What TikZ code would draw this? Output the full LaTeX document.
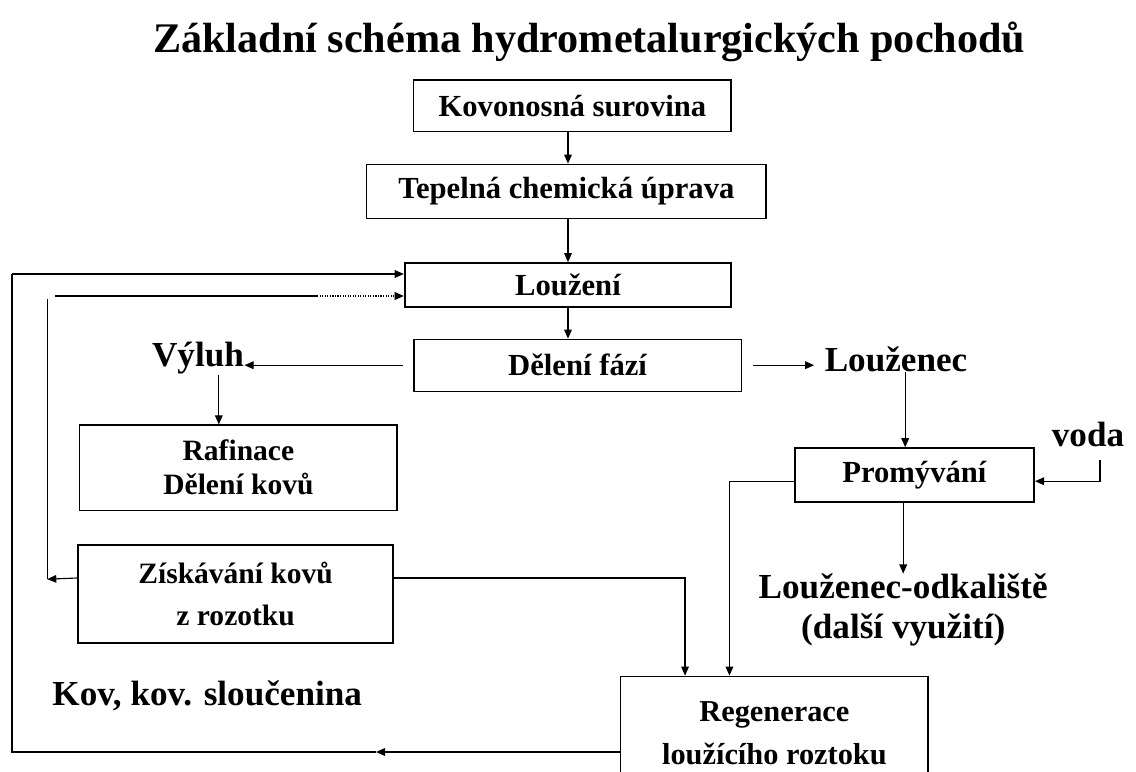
\documentclass[tikz,border=0pt]{standalone}
\usepackage{fontspec}
\setmainfont{Liberation Serif}
\usetikzlibrary{arrows.meta,positioning}

\begin{document}
\begin{tikzpicture}[line width=0.8pt,
    box/.style={draw, rectangle, inner sep=0pt, align=center, font=\fontsize{21.8}{25}\selectfont\bfseries},
    thickbox/.style={box, line width=1.4pt},
    bigtext/.style={inner sep=0pt, align=center, font=\fontsize{25}{28}\selectfont\bfseries},
    arr/.style={-{Triangle[length=6.5pt,width=5.5pt]}}]
        \useasboundingbox (0,0) rectangle (28.4,-19.275);
        \clip (0,0) rectangle (28.4,-19.275);
        % titulek
        \node [font=\fontsize{30}{34}\selectfont\bfseries] (title) at (14.73,-1.05) {Základní schéma hydrometalurgických pochodů};
        % hlavni linka
        \node [box, minimum width=7.93cm, minimum height=1.28cm] (kov) at (14.31,-2.64) {Kovonosná surovina};
        \node [box, minimum width=9.98cm, minimum height=1.35cm] (tep) at (14.16,-4.78) {Tepelná chemická úprava};
        \node [thickbox, minimum width=8.16cm, minimum height=1.10cm] (lou) at (14.2,-7.13) {Loužení};
        \node [box, minimum width=8.18cm, minimum height=1.30cm] (del) at (14.44,-9.13) {Dělení fází};
        \node [bigtext] (vyl) at (4.95,-8.95) {Výluh};
        \node [bigtext] (lzn) at (22.4,-8.98) {Louženec};
        \node [bigtext] (voda) at (27.2,-10.85) {voda};
        \node [box, font=\fontsize{21}{24}\selectfont\bfseries, minimum width=7.93cm, minimum height=2.13cm] (raf) at (5.96,-11.69) {Rafinace\\Dělení kovů};
        \node [thickbox, minimum width=5.98cm, minimum height=1.35cm] (prom) at (22.86,-11.88) {Promývání};
        \node [bigtext] (odk) at (22.58,-15.25) {Louženec-odkaliště\\(další využití)};
        \node [thickbox, font=\fontsize{21}{30}\selectfont\bfseries, minimum width=7.88cm, minimum height=2.45cm] (zisk) at (5.89,-14.85) {Získávání kovů\\z rozotku};
        \node [bigtext] (slouc) at (5.18,-17.4) {Kov, kov. sloučenina};
        \node [box, font=\fontsize{21.6}{31}\selectfont\bfseries, minimum width=7.68cm, minimum height=2.85cm] (reg) at (19.36,-18.33) {Regenerace\\loužícího roztoku};
        % body spojek
        \coordinate (vodatop) at (27.5,-11.5);
        \coordinate (r1) at ([xshift=1.62cm]reg.north west);
        \coordinate (r2) at ([xshift=2.73cm]reg.north west);
        \coordinate (k1) at (1.18,-14.48);
        \coordinate (k2) at (1.18,-7.48);
        \coordinate (k3) at (1.38,-7.4);
        \coordinate (k4) at (7.93,-7.4);
        \coordinate (o1) at ([yshift=-0.47cm]reg.west);
        \coordinate (o2) at (9.4,-18.8);
        \coordinate (o3) at (0.3,-6.85);
        % spojky
        \draw [arr] (kov.south -| lou.north) -- (tep.north -| lou.north);
        \draw [arr] (tep.south -| lou.north) -- (lou);
        \draw [arr] (lou.south) -- (lou.south |- del.north);
        \draw [arr, shorten <=0.27cm] (del.west) -- (vyl.east |- del.west);
        \draw [arr] (vyl.south -| 5.47,0) -- (raf.north -| 5.47,0);
        \draw [arr, shorten <=0.28cm] (del.east) -- ([xshift=-0.25cm]lzn.west |- del.east);
        \draw [arr] (lzn.south -| 22.63,0) -- (prom.north -| 22.63,0);
        \draw [arr] (vodatop) |- ([yshift=-0.15cm]prom.east);
        \draw [arr] (prom.south -| 22.58,0) -- (odk.north -| 22.58,0);
        \draw [arr] ([yshift=-0.15cm]prom.west) -| (r2);
        \draw [arr] ([yshift=0.4cm]zisk.east) -| (r1);
        \draw [arr] ([yshift=0.4cm]zisk.west) -- (k1);
        \draw (k1) -- (k2);
        \draw (k3) -- (k4);
        \draw [arr, densely dotted] (k4) -- (lou.west |- k4);
        \draw [arr] (o1) -- (o2);
        \draw (o2) -| (o3);
        \draw [arr] (o3) -- (lou.west |- o3);
\end{tikzpicture}
\end{document}
